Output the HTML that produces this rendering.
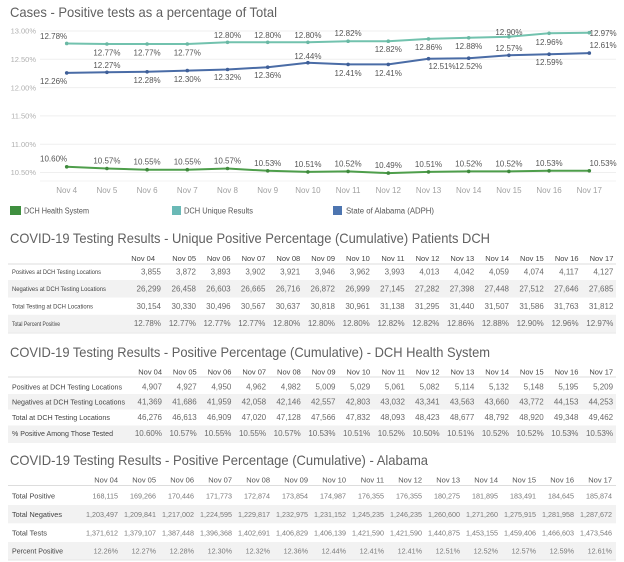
<!DOCTYPE html>
<html><head><meta charset="utf-8"><style>
html,body{margin:0;padding:0;background:#fff;}
svg{display:block;font-family:"Liberation Sans",sans-serif;}
</style></head><body>
<svg width="624" height="562" viewBox="0 0 624 562" xmlns="http://www.w3.org/2000/svg">
<!-- Chart title -->
<text x="10" y="17" font-size="14" fill="#606060" textLength="267" lengthAdjust="spacingAndGlyphs">Cases - Positive tests as a percentage of Total</text>

<!-- gridlines -->
<g stroke="#efefef" stroke-width="1">
<line x1="40" y1="31" x2="616" y2="31"/>
<line x1="40" y1="59.3" x2="616" y2="59.3"/>
<line x1="40" y1="87.6" x2="616" y2="87.6"/>
<line x1="40" y1="115.9" x2="616" y2="115.9"/>
<line x1="40" y1="144.2" x2="616" y2="144.2"/>
<line x1="40" y1="172.5" x2="616" y2="172.5"/>
</g>
<line x1="40" y1="181" x2="616" y2="181" stroke="#f3f3f3" stroke-width="1"/>

<!-- y tick labels -->
<g font-size="7.5" fill="#b0b0b0" text-anchor="end">
<text x="36" y="33.5">13.00%</text>
<text x="36" y="62">12.50%</text>
<text x="36" y="90.3">12.00%</text>
<text x="36" y="118.6">11.50%</text>
<text x="36" y="146.9">11.00%</text>
<text x="36" y="175.2">10.50%</text>
</g>

<!-- x tick labels -->
<g font-size="8" fill="#a0a0a0" text-anchor="middle">
<text x="66.7" y="193">Nov 4</text>
<text x="106.9" y="193">Nov 5</text>
<text x="147.1" y="193">Nov 6</text>
<text x="187.3" y="193">Nov 7</text>
<text x="227.5" y="193">Nov 8</text>
<text x="267.7" y="193">Nov 9</text>
<text x="307.9" y="193">Nov 10</text>
<text x="348.1" y="193">Nov 11</text>
<text x="388.3" y="193">Nov 12</text>
<text x="428.5" y="193">Nov 13</text>
<text x="468.7" y="193">Nov 14</text>
<text x="508.9" y="193">Nov 15</text>
<text x="549.1" y="193">Nov 16</text>
<text x="589.3" y="193">Nov 17</text>
</g>

<!-- Teal series -->
<polyline fill="none" stroke="#72c2ae" stroke-width="2" points="66.7,43.45 106.9,44 147.1,44 187.3,44 227.5,42.3 267.7,42.3 307.9,42.3 348.1,41.2 388.3,41.2 428.5,38.9 468.7,37.8 508.9,36.7 549.1,33.3 589.3,32.7"/>
<g fill="#6ab8a4">
<circle cx="66.7" cy="43.45" r="1.8"/><circle cx="106.9" cy="44" r="1.8"/><circle cx="147.1" cy="44" r="1.8"/><circle cx="187.3" cy="44" r="1.8"/><circle cx="227.5" cy="42.3" r="1.8"/><circle cx="267.7" cy="42.3" r="1.8"/><circle cx="307.9" cy="42.3" r="1.8"/><circle cx="348.1" cy="41.2" r="1.8"/><circle cx="388.3" cy="41.2" r="1.8"/><circle cx="428.5" cy="38.9" r="1.8"/><circle cx="468.7" cy="37.8" r="1.8"/><circle cx="508.9" cy="36.7" r="1.8"/><circle cx="549.1" cy="33.3" r="1.8"/><circle cx="589.3" cy="32.7" r="1.8"/>
</g>

<!-- Blue series -->
<polyline fill="none" stroke="#4a6ca6" stroke-width="2" points="66.7,72.9 106.9,72.3 147.1,71.8 187.3,70.6 227.5,69.5 267.7,67.2 307.9,62.7 348.1,64.4 388.3,64.4 428.5,58.7 468.7,58.2 508.9,55.3 549.1,54.2 589.3,53.1"/>
<g fill="#3f5f98">
<circle cx="66.7" cy="72.9" r="1.8"/><circle cx="106.9" cy="72.3" r="1.8"/><circle cx="147.1" cy="71.8" r="1.8"/><circle cx="187.3" cy="70.6" r="1.8"/><circle cx="227.5" cy="69.5" r="1.8"/><circle cx="267.7" cy="67.2" r="1.8"/><circle cx="307.9" cy="62.7" r="1.8"/><circle cx="348.1" cy="64.4" r="1.8"/><circle cx="388.3" cy="64.4" r="1.8"/><circle cx="428.5" cy="58.7" r="1.8"/><circle cx="468.7" cy="58.2" r="1.8"/><circle cx="508.9" cy="55.3" r="1.8"/><circle cx="549.1" cy="54.2" r="1.8"/><circle cx="589.3" cy="53.1" r="1.8"/>
</g>

<!-- Green series -->
<polyline fill="none" stroke="#4e9e4b" stroke-width="2" points="66.7,166.8 106.9,168.5 147.1,169.7 187.3,169.7 227.5,168.5 267.7,170.8 307.9,171.9 348.1,171.4 388.3,173.1 428.5,171.9 468.7,171.4 508.9,171.4 549.1,170.8 589.3,170.8"/>
<g fill="#3f8a3d">
<circle cx="66.7" cy="166.8" r="1.8"/><circle cx="106.9" cy="168.5" r="1.8"/><circle cx="147.1" cy="169.7" r="1.8"/><circle cx="187.3" cy="169.7" r="1.8"/><circle cx="227.5" cy="168.5" r="1.8"/><circle cx="267.7" cy="170.8" r="1.8"/><circle cx="307.9" cy="171.9" r="1.8"/><circle cx="348.1" cy="171.4" r="1.8"/><circle cx="388.3" cy="173.1" r="1.8"/><circle cx="428.5" cy="171.9" r="1.8"/><circle cx="468.7" cy="171.4" r="1.8"/><circle cx="508.9" cy="171.4" r="1.8"/><circle cx="549.1" cy="170.8" r="1.8"/><circle cx="589.3" cy="170.8" r="1.8"/>
</g>

<!-- value labels -->
<g font-size="8" fill="#555" text-anchor="middle">
<text x="40" y="39" text-anchor="start">12.78%</text>
<text x="106.9" y="55.7">12.77%</text>
<text x="147.1" y="55.7">12.77%</text>
<text x="187.3" y="55.7">12.77%</text>
<text x="227.5" y="38">12.80%</text>
<text x="267.7" y="38">12.80%</text>
<text x="307.9" y="38">12.80%</text>
<text x="348.1" y="36">12.82%</text>
<text x="388.3" y="52">12.82%</text>
<text x="428.5" y="50">12.86%</text>
<text x="468.7" y="49">12.88%</text>
<text x="508.9" y="35">12.90%</text>
<text x="549.1" y="45">12.96%</text>
<text x="589.5" y="36" text-anchor="start">12.97%</text>
<text x="40" y="84" text-anchor="start">12.26%</text>
<text x="106.9" y="68">12.27%</text>
<text x="147.1" y="83">12.28%</text>
<text x="187.3" y="82">12.30%</text>
<text x="227.5" y="80">12.32%</text>
<text x="267.7" y="78">12.36%</text>
<text x="307.9" y="59">12.44%</text>
<text x="348.1" y="76">12.41%</text>
<text x="388.3" y="76">12.41%</text>
<text x="428.5" y="69" text-anchor="start">12.51%</text>
<text x="468.7" y="69">12.52%</text>
<text x="508.9" y="51">12.57%</text>
<text x="549.1" y="65">12.59%</text>
<text x="589.5" y="48" text-anchor="start">12.61%</text>
<text x="40" y="161.5" text-anchor="start">10.60%</text>
<text x="106.9" y="163.5">10.57%</text>
<text x="147.1" y="164.7">10.55%</text>
<text x="187.3" y="164.7">10.55%</text>
<text x="227.5" y="163.5">10.57%</text>
<text x="267.7" y="165.8">10.53%</text>
<text x="307.9" y="166.9">10.51%</text>
<text x="348.1" y="166.4">10.52%</text>
<text x="388.3" y="168">10.49%</text>
<text x="428.5" y="166.9">10.51%</text>
<text x="468.7" y="166.4">10.52%</text>
<text x="508.9" y="166.4">10.52%</text>
<text x="549.1" y="165.8">10.53%</text>
<text x="589.5" y="165.8" text-anchor="start">10.53%</text>
</g>

<!-- legend -->
<rect x="10" y="206" width="11" height="9" fill="#3f8f3f"/>
<text x="24" y="213.5" font-size="8" fill="#555" textLength="65" lengthAdjust="spacingAndGlyphs">DCH Health System</text>
<rect x="172" y="206" width="9" height="9" fill="#6ab9b6"/>
<text x="184" y="213.5" font-size="8" fill="#555" textLength="69" lengthAdjust="spacingAndGlyphs">DCH Unique Results</text>
<rect x="333" y="206" width="9" height="9" fill="#4d75b0"/>
<text x="346" y="213.5" font-size="8" fill="#555" textLength="88" lengthAdjust="spacingAndGlyphs">State of Alabama (ADPH)</text>

<!-- ===== Table 1 ===== -->
<text x="10" y="243" font-size="14" fill="#606060" textLength="480" lengthAdjust="spacingAndGlyphs">COVID-19 Testing Results - Unique Positive Percentage (Cumulative) Patients DCH</text>
<rect x="8" y="280" width="608" height="17.5" fill="#f2f2f2"/>
<rect x="8" y="314.8" width="608" height="17.5" fill="#f2f2f2"/>
<line x1="8" y1="264" x2="616" y2="264" stroke="#ddd"/>
<line x1="8" y1="333" x2="616" y2="333" stroke="#e6e6e6"/>
<g font-size="7.5" fill="#444" text-anchor="end">
<text x="155" y="261">Nov 04</text><text x="196" y="261">Nov 05</text><text x="230.6" y="261">Nov 06</text><text x="265.4" y="261">Nov 07</text><text x="300.2" y="261">Nov 08</text><text x="335" y="261">Nov 09</text><text x="369.8" y="261">Nov 10</text><text x="404.6" y="261">Nov 11</text><text x="439.4" y="261">Nov 12</text><text x="474.2" y="261">Nov 13</text><text x="509" y="261">Nov 14</text><text x="543.8" y="261">Nov 15</text><text x="578.6" y="261">Nov 16</text><text x="613.4" y="261">Nov 17</text>
</g>
<g font-size="6" fill="#444">
<text x="12" y="274" textLength="89" lengthAdjust="spacingAndGlyphs">Positives at DCH Testing Locations</text>
<text x="12" y="291" textLength="94" lengthAdjust="spacingAndGlyphs">Negatives at DCH Testing Locations</text>
<text x="12" y="308.5" textLength="81" lengthAdjust="spacingAndGlyphs">Total Testing at DCH Locations</text>
<text x="12" y="325.8" textLength="48" lengthAdjust="spacingAndGlyphs">Total Percent Positive</text>
</g>
<g font-size="8" fill="#6a6a6a" text-anchor="end">
<text x="161" y="274.3">3,855</text><text x="196" y="274.3">3,872</text><text x="230.6" y="274.3">3,893</text><text x="265.4" y="274.3">3,902</text><text x="300.2" y="274.3">3,921</text><text x="335" y="274.3">3,946</text><text x="369.8" y="274.3">3,962</text><text x="404.6" y="274.3">3,993</text><text x="439.4" y="274.3">4,013</text><text x="474.2" y="274.3">4,042</text><text x="509" y="274.3">4,059</text><text x="543.8" y="274.3">4,074</text><text x="578.6" y="274.3">4,117</text><text x="613.4" y="274.3">4,127</text>
<text x="161" y="291.6">26,299</text><text x="196" y="291.6">26,458</text><text x="230.6" y="291.6">26,603</text><text x="265.4" y="291.6">26,665</text><text x="300.2" y="291.6">26,716</text><text x="335" y="291.6">26,872</text><text x="369.8" y="291.6">26,999</text><text x="404.6" y="291.6">27,145</text><text x="439.4" y="291.6">27,282</text><text x="474.2" y="291.6">27,398</text><text x="509" y="291.6">27,448</text><text x="543.8" y="291.6">27,512</text><text x="578.6" y="291.6">27,646</text><text x="613.4" y="291.6">27,685</text>
<text x="161" y="308.9">30,154</text><text x="196" y="308.9">30,330</text><text x="230.6" y="308.9">30,496</text><text x="265.4" y="308.9">30,567</text><text x="300.2" y="308.9">30,637</text><text x="335" y="308.9">30,818</text><text x="369.8" y="308.9">30,961</text><text x="404.6" y="308.9">31,138</text><text x="439.4" y="308.9">31,295</text><text x="474.2" y="308.9">31,440</text><text x="509" y="308.9">31,507</text><text x="543.8" y="308.9">31,586</text><text x="578.6" y="308.9">31,763</text><text x="613.4" y="308.9">31,812</text>
<text x="161" y="326.2">12.78%</text><text x="196" y="326.2">12.77%</text><text x="230.6" y="326.2">12.77%</text><text x="265.4" y="326.2">12.77%</text><text x="300.2" y="326.2">12.80%</text><text x="335" y="326.2">12.80%</text><text x="369.8" y="326.2">12.80%</text><text x="404.6" y="326.2">12.82%</text><text x="439.4" y="326.2">12.82%</text><text x="474.2" y="326.2">12.86%</text><text x="509" y="326.2">12.88%</text><text x="543.8" y="326.2">12.90%</text><text x="578.6" y="326.2">12.96%</text><text x="613.4" y="326.2">12.97%</text>
</g>

<!-- ===== Table 2 ===== -->
<text x="10" y="357" font-size="14" fill="#606060" textLength="480" lengthAdjust="spacingAndGlyphs">COVID-19 Testing Results - Positive Percentage (Cumulative) - DCH Health System</text>
<rect x="8" y="394" width="608" height="15.5" fill="#f2f2f2"/>
<rect x="8" y="425.5" width="608" height="15.5" fill="#f2f2f2"/>
<line x1="8" y1="377" x2="616" y2="377" stroke="#ddd"/>
<line x1="8" y1="442" x2="616" y2="442" stroke="#e6e6e6"/>
<g font-size="7.5" fill="#444" text-anchor="end">
<text x="162" y="374.5">Nov 04</text><text x="196.7" y="374.5">Nov 05</text><text x="231.4" y="374.5">Nov 06</text><text x="266.1" y="374.5">Nov 07</text><text x="300.8" y="374.5">Nov 08</text><text x="335.5" y="374.5">Nov 09</text><text x="370.2" y="374.5">Nov 10</text><text x="404.9" y="374.5">Nov 11</text><text x="439.6" y="374.5">Nov 12</text><text x="474.3" y="374.5">Nov 13</text><text x="509" y="374.5">Nov 14</text><text x="543.7" y="374.5">Nov 15</text><text x="578.4" y="374.5">Nov 16</text><text x="613.1" y="374.5">Nov 17</text>
</g>
<g font-size="7" fill="#444">
<text x="12" y="389.3" textLength="110" lengthAdjust="spacingAndGlyphs">Positives at DCH Testing Locations</text>
<text x="12" y="404.3" textLength="113" lengthAdjust="spacingAndGlyphs">Negatives at DCH Testing Locations</text>
<text x="12" y="419.9" textLength="98" lengthAdjust="spacingAndGlyphs">Total at DCH Testing Locations</text>
<text x="12" y="435.9" textLength="101" lengthAdjust="spacingAndGlyphs">% Positive Among Those Tested</text>
</g>
<g font-size="8" fill="#6a6a6a" text-anchor="end">
<text x="162" y="389.5">4,907</text><text x="196.7" y="389.5">4,927</text><text x="231.4" y="389.5">4,950</text><text x="266.1" y="389.5">4,962</text><text x="300.8" y="389.5">4,982</text><text x="335.5" y="389.5">5,009</text><text x="370.2" y="389.5">5,029</text><text x="404.9" y="389.5">5,061</text><text x="439.6" y="389.5">5,082</text><text x="474.3" y="389.5">5,114</text><text x="509" y="389.5">5,132</text><text x="543.7" y="389.5">5,148</text><text x="578.4" y="389.5">5,195</text><text x="613.1" y="389.5">5,209</text>
<text x="162" y="404.5">41,369</text><text x="196.7" y="404.5">41,686</text><text x="231.4" y="404.5">41,959</text><text x="266.1" y="404.5">42,058</text><text x="300.8" y="404.5">42,146</text><text x="335.5" y="404.5">42,557</text><text x="370.2" y="404.5">42,803</text><text x="404.9" y="404.5">43,032</text><text x="439.6" y="404.5">43,341</text><text x="474.3" y="404.5">43,563</text><text x="509" y="404.5">43,660</text><text x="543.7" y="404.5">43,772</text><text x="578.4" y="404.5">44,153</text><text x="613.1" y="404.5">44,253</text>
<text x="162" y="420.1">46,276</text><text x="196.7" y="420.1">46,613</text><text x="231.4" y="420.1">46,909</text><text x="266.1" y="420.1">47,020</text><text x="300.8" y="420.1">47,128</text><text x="335.5" y="420.1">47,566</text><text x="370.2" y="420.1">47,832</text><text x="404.9" y="420.1">48,093</text><text x="439.6" y="420.1">48,423</text><text x="474.3" y="420.1">48,677</text><text x="509" y="420.1">48,792</text><text x="543.7" y="420.1">48,920</text><text x="578.4" y="420.1">49,348</text><text x="613.1" y="420.1">49,462</text>
<text x="162" y="436.1">10.60%</text><text x="196.7" y="436.1">10.57%</text><text x="231.4" y="436.1">10.55%</text><text x="266.1" y="436.1">10.55%</text><text x="300.8" y="436.1">10.57%</text><text x="335.5" y="436.1">10.53%</text><text x="370.2" y="436.1">10.51%</text><text x="404.9" y="436.1">10.52%</text><text x="439.6" y="436.1">10.50%</text><text x="474.3" y="436.1">10.51%</text><text x="509" y="436.1">10.52%</text><text x="543.7" y="436.1">10.52%</text><text x="578.4" y="436.1">10.53%</text><text x="613.1" y="436.1">10.53%</text>
</g>

<!-- ===== Table 3 ===== -->
<text x="10" y="465" font-size="14" fill="#606060" textLength="418" lengthAdjust="spacingAndGlyphs">COVID-19 Testing Results - Positive Percentage (Cumulative) - Alabama</text>
<rect x="8" y="505" width="608" height="18.3" fill="#f2f2f2"/>
<rect x="8" y="542" width="608" height="17.5" fill="#f2f2f2"/>
<line x1="8" y1="485.5" x2="616" y2="485.5" stroke="#ddd"/>
<line x1="8" y1="560" x2="616" y2="560" stroke="#e6e6e6"/>
<g font-size="7.5" fill="#555" text-anchor="end">
<text x="118" y="482.7">Nov 04</text><text x="156" y="482.7">Nov 05</text><text x="194" y="482.7">Nov 06</text><text x="232" y="482.7">Nov 07</text><text x="270" y="482.7">Nov 08</text><text x="308" y="482.7">Nov 09</text><text x="346" y="482.7">Nov 10</text><text x="384" y="482.7">Nov 11</text><text x="422" y="482.7">Nov 12</text><text x="460" y="482.7">Nov 13</text><text x="498" y="482.7">Nov 14</text><text x="536" y="482.7">Nov 15</text><text x="574" y="482.7">Nov 16</text><text x="612" y="482.7">Nov 17</text>
</g>
<g font-size="7.5" fill="#444">
<text x="12" y="498.7" textLength="43" lengthAdjust="spacingAndGlyphs">Total Positive</text>
<text x="12" y="517" textLength="50" lengthAdjust="spacingAndGlyphs">Total Negatives</text>
<text x="12" y="535.4" textLength="35" lengthAdjust="spacingAndGlyphs">Total Tests</text>
<text x="12" y="553.7" textLength="51" lengthAdjust="spacingAndGlyphs">Percent Positive</text>
</g>
<g font-size="7.2" fill="#7a7a7a" text-anchor="end">
<text x="118" y="498.7">168,115</text><text x="156" y="498.7">169,266</text><text x="194" y="498.7">170,446</text><text x="232" y="498.7">171,773</text><text x="270" y="498.7">172,874</text><text x="308" y="498.7">173,854</text><text x="346" y="498.7">174,987</text><text x="384" y="498.7">176,355</text><text x="422" y="498.7">176,355</text><text x="460" y="498.7">180,275</text><text x="498" y="498.7">181,895</text><text x="536" y="498.7">183,491</text><text x="574" y="498.7">184,645</text><text x="612" y="498.7">185,874</text>
<text x="118" y="517">1,203,497</text><text x="156" y="517">1,209,841</text><text x="194" y="517">1,217,002</text><text x="232" y="517">1,224,595</text><text x="270" y="517">1,229,817</text><text x="308" y="517">1,232,975</text><text x="346" y="517">1,231,152</text><text x="384" y="517">1,245,235</text><text x="422" y="517">1,246,235</text><text x="460" y="517">1,260,600</text><text x="498" y="517">1,271,260</text><text x="536" y="517">1,275,915</text><text x="574" y="517">1,281,958</text><text x="612" y="517">1,287,672</text>
<text x="118" y="535.4">1,371,612</text><text x="156" y="535.4">1,379,107</text><text x="194" y="535.4">1,387,448</text><text x="232" y="535.4">1,396,368</text><text x="270" y="535.4">1,402,691</text><text x="308" y="535.4">1,406,829</text><text x="346" y="535.4">1,406,139</text><text x="384" y="535.4">1,421,590</text><text x="422" y="535.4">1,421,590</text><text x="460" y="535.4">1,440,875</text><text x="498" y="535.4">1,453,155</text><text x="536" y="535.4">1,459,406</text><text x="574" y="535.4">1,466,603</text><text x="612" y="535.4">1,473,546</text>
<text x="118" y="553.7">12.26%</text><text x="156" y="553.7">12.27%</text><text x="194" y="553.7">12.28%</text><text x="232" y="553.7">12.30%</text><text x="270" y="553.7">12.32%</text><text x="308" y="553.7">12.36%</text><text x="346" y="553.7">12.44%</text><text x="384" y="553.7">12.41%</text><text x="422" y="553.7">12.41%</text><text x="460" y="553.7">12.51%</text><text x="498" y="553.7">12.52%</text><text x="536" y="553.7">12.57%</text><text x="574" y="553.7">12.59%</text><text x="612" y="553.7">12.61%</text>
</g>
</svg>
</body></html>
